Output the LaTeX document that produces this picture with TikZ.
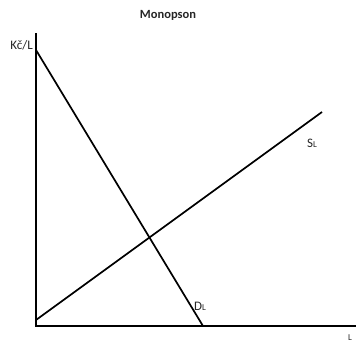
\documentclass[tikz,border=0pt]{standalone}
\usepackage{fontspec}
\setmainfont{Carlito}
\begin{document}
\begin{tikzpicture}[x=1pt,y=-1pt,
  ln/.style={line width=1.7pt, line cap=butt},
  lbl/.style={inner sep=0pt, font=\fontsize{13}{15}\selectfont, text=black!85}]
\useasboundingbox (0,0) rectangle (356,343);
\coordinate (top) at (36,33);
\coordinate (orig) at (36,326);
\coordinate (xend) at (356,326);
\coordinate (dtop) at (36,50);
\coordinate (dbot) at (203,326);
\coordinate (sbot) at (36,320);
\coordinate (stop) at (322,112);
\draw[ln] (top) -- (orig) -- (xend);
\draw[ln] (dtop) -- (dbot);
\draw[ln] (sbot) -- (stop);
\node[lbl, font=\fontsize{12.5}{15}\selectfont\bfseries] (title) at (168,15) {Monopson};
\node[lbl, anchor=east] (ylab) at (33,45) {Kč/L};
\node[lbl, anchor=west] (slab) at (307,143) {S{\fontsize{9}{9}\selectfont L}};
\node[lbl, anchor=west] (dlab) at (194,306) {D{\fontsize{9}{9}\selectfont L}};
\node[lbl, anchor=base, font=\fontsize{9}{9}\selectfont] (xlab) at (350,340) {L};
\end{tikzpicture}
\end{document}
